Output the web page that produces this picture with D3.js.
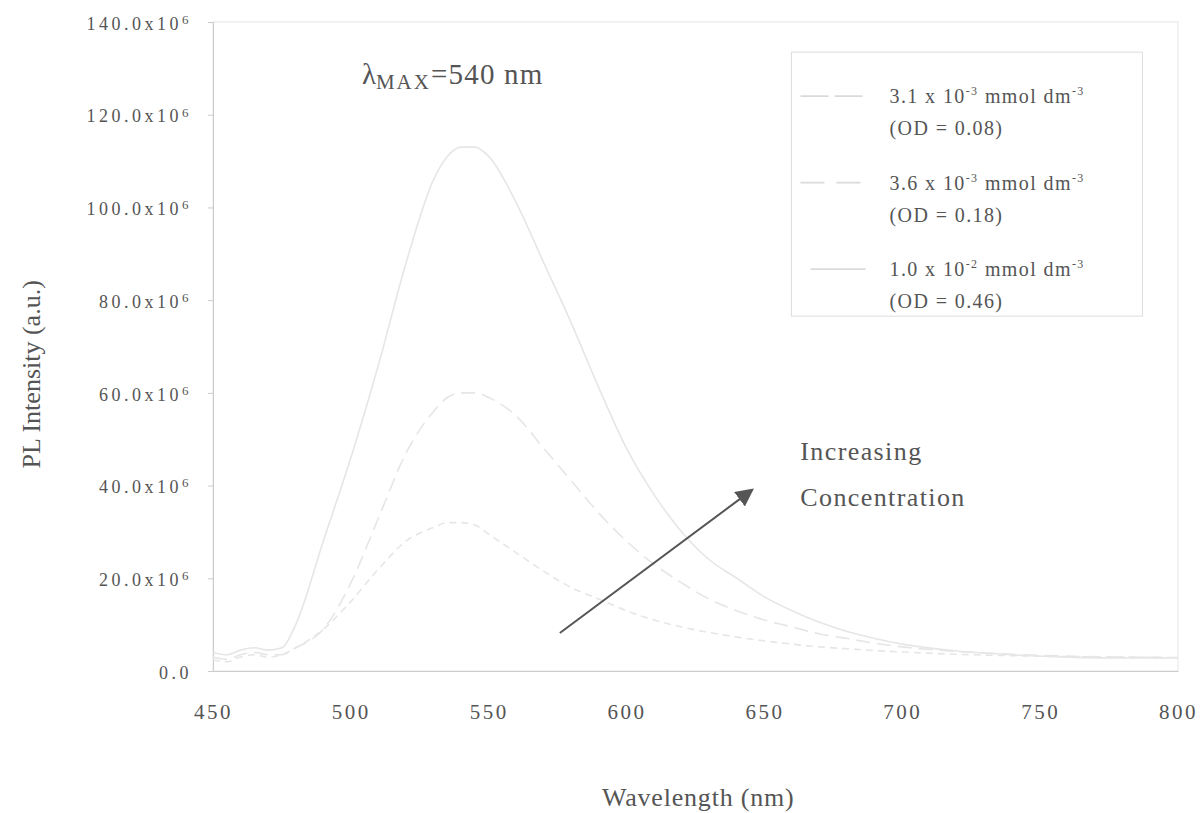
<!DOCTYPE html>
<html>
<head>
<meta charset="utf-8">
<script src="https://cdn.jsdelivr.net/npm/d3@7"></script>
<style>
  body { margin: 0; background: #fff; }
  text { font-family: "Liberation Serif", "Times New Roman", serif; fill: #555; }
</style>
</head>
<body>
<div id="chart"></div>
<script>
// emission spectra, intensity in units of 1e6
const wavelengths = [450,455,460,465,470,475,480,490,500,510,520,530,535,540,545,550,560,570,580,590,600,610,620,630,640,650,660,670,680,690,700,720,740,760,780,800];
const conc31 = [2.5,2,3,3.5,3,3.5,5,9,15,22,28,31,32,32,31.5,29.5,25.5,21.5,18,15.5,13,11,9.5,8.3,7.3,6.5,5.8,5.2,4.8,4.4,4.1,3.6,3.3,3.1,3,2.9];
const conc36 = [3,2.5,3.5,4,3.5,3.5,5,9,19,33,47,56,59,60,60,59,55,48,41,34,28,23,19,15.5,13,11,9.5,8,7,6,5.2,4.2,3.6,3.2,3,2.9];
const conc100 = [4,3.5,4.5,5,4.5,5,10,28,46,66,88,106,111,113,113,111,101,88,75,61,48,38,30,24,20,16,13,10.5,8.5,7,5.8,4.3,3.5,3,2.8,2.8];

const seriesNames = [["3.1 x 10", "-3", " mmol dm", "-3", "(OD = 0.08)"],
                     ["3.6 x 10", "-3", " mmol dm", "-3", "(OD = 0.18)"],
                     ["1.0 x 10", "-2", " mmol dm", "-3", "(OD = 0.46)"]];
const seriesDash = ["7,5", "14,7", null];
const legendDash = ["28,6", "24,12", null];
const xTicks = [450,500,550,600,650,700,750,800];
const yTicks = [0,20,40,60,80,100,120,140];

const width = 1201, height = 813;
const margin = {top: 22, right: 23, bottom: 142, left: 213};

let svg = d3.select("#chart")
    .append("svg")
    .attr("width", width)
    .attr("height", height);

let x = d3.scaleLinear()
    .domain([450, 800])
    .range([margin.left, width - margin.right]);

let y = d3.scaleLinear()
    .domain([0, 140])
    .range([height - margin.bottom, margin.top]);

// plot frame
svg.append("rect")
    .attr("x", x(450))
    .attr("y", y(140))
    .attr("width", x(800) - x(450))
    .attr("height", y(0) - y(140))
    .attr("fill", "none")
    .attr("stroke", "#e6e6e6");

let yAxis = svg.append("g")
    .attr("transform", `translate(${x(450)},0)`)
    .call(d3.axisLeft(y).tickValues(yTicks).tickSize(5).tickPadding(16)
        .tickFormat(d => d == 0 ? "0.0" : d.toFixed(1) + "x10"));
yAxis.selectAll("text")
    .style("font-size", "18px")
    .style("font-family", "Liberation Serif")
    .style("letter-spacing", "3.5px")
    .attr("fill", "#555")
    .attr("dy", "0.4em")
    .filter(d => d != 0)
    .append("tspan")
    .attr("dy", "-0.45em")
    .style("font-size", "13px")
    .text("6");

let xAxis = svg.append("g")
    .attr("transform", `translate(0,${y(0)})`)
    .call(d3.axisBottom(x).tickValues(xTicks).tickSize(0).tickPadding(33));
xAxis.selectAll("text")
    .style("font-size", "21px")
    .style("font-family", "Liberation Serif")
    .style("letter-spacing", "2.5px")
    .attr("fill", "#555");

svg.selectAll(".domain, .tick line").attr("stroke", "#ccc");

svg.append("text")
    .attr("x", x(626))
    .attr("y", 806)
    .attr("text-anchor", "middle")
    .style("font-size", "26px")
    .style("letter-spacing", "0.8px")
    .text("Wavelength (nm)");

svg.append("text")
    .attr("transform", `translate(40, ${y(64)}) rotate(-90)`)
    .attr("text-anchor", "middle")
    .style("font-size", "26px")
    .text("PL Intensity (a.u.)");

// spectra
const series = [conc31, conc36, conc100];
let line = d3.line()
    .x((d, i) => x(wavelengths[i]))
    .y(d => y(d))
    .curve(d3.curveMonotoneX);

svg.selectAll(".spectrum")
    .data(series)
    .enter()
    .append("path")
    .attr("class", "spectrum")
    .attr("d", d => line(d))
    .attr("fill", "none")
    .attr("stroke", "#e6e6e6")
    .attr("stroke-width", 1.6)
    .attr("stroke-dasharray", (d, i) => seriesDash[i]);

// lambda max label
let lam = svg.append("text")
    .attr("x", x(504))
    .attr("y", y(126.6))
    .style("font-size", "29px")
    .attr("fill", "#444");
lam.append("tspan").text("λ");
lam.append("tspan").attr("dy", "5").style("font-size", "21px").style("letter-spacing", "2px").text("MAX");
lam.append("tspan").attr("dy", "-5").style("letter-spacing", "1.2px").text("=540 nm");

// arrow + note
svg.append("defs").append("marker")
    .attr("id", "head")
    .attr("viewBox", "0 0 10 10")
    .attr("refX", 2).attr("refY", 5)
    .attr("markerWidth", 9).attr("markerHeight", 9)
    .attr("orient", "auto")
    .append("path")
    .attr("d", "M0,0 L10,5 L0,10 Z")
    .attr("fill", "#555");

svg.append("line")
    .attr("x1", x(575.8)).attr("y1", y(8.2))
    .attr("x2", x(642)).attr("y2", y(37.5))
    .attr("stroke", "#555")
    .attr("stroke-width", 2)
    .attr("marker-end", "url(#head)");

svg.append("text")
    .attr("x", x(663))
    .attr("y", y(45.6))
    .style("font-size", "26px")
    .style("letter-spacing", "1.4px")
    .text("Increasing");
svg.append("text")
    .attr("x", x(663))
    .attr("y", y(35.5))
    .style("font-size", "26px")
    .style("letter-spacing", "1.4px")
    .text("Concentration");

// legend
let legend = svg.append("g");
legend.append("rect")
    .attr("x", x(659.8))
    .attr("y", y(133.5))
    .attr("width", 351)
    .attr("height", 264)
    .attr("fill", "#fff")
    .attr("stroke", "#ddd");

let rows = legend.selectAll(".row")
    .data(seriesNames)
    .enter()
    .append("g")
    .attr("class", "row")
    .attr("transform", (d, i) => `translate(${x(662)}, ${y(124.0) + i * 86.5})`);

rows.append("line")
    .attr("x1", (d, i) => i == 2 ? 13 : 3)
    .attr("x2", 68)
    .attr("y1", 0).attr("y2", 0)
    .attr("stroke", "#dadada")
    .attr("stroke-width", 1.6)
    .attr("stroke-dasharray", (d, i) => legendDash[i]);

let label = rows.append("text")
    .attr("x", 92)
    .attr("y", 7)
    .style("font-size", "20px")
    .style("letter-spacing", "1.4px");
label.append("tspan").text(d => d[0]);
label.append("tspan").attr("dy", "-8").style("font-size", "12px").text(d => d[1]);
label.append("tspan").attr("dy", "8").text(d => d[2]);
label.append("tspan").attr("dy", "-8").style("font-size", "12px").text(d => d[3]);

rows.append("text")
    .attr("x", 92)
    .attr("y", 39)
    .style("font-size", "20px")
    .style("letter-spacing", "1.4px")
    .text(d => d[4]);
</script>
</body>
</html>
